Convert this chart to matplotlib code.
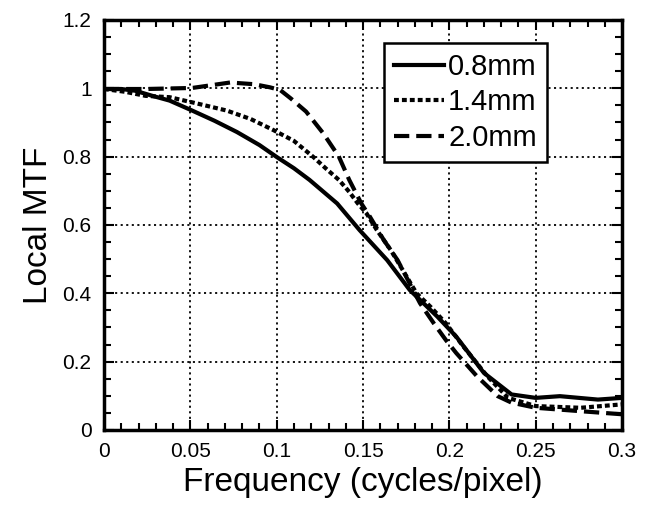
import numpy as np
import matplotlib
matplotlib.use("Agg")
import matplotlib.pyplot as plt
from matplotlib.ticker import MultipleLocator

plt.rcParams['font.family'] = ['Liberation Sans', 'DejaVu Sans']
plt.rcParams['lines.scale_dashes'] = False

# 0.8mm (solid)
f_08 = [0.0, 0.010, 0.018, 0.028, 0.038, 0.051, 0.064, 0.077, 0.090, 0.100,
        0.110, 0.119, 0.135, 0.148, 0.164, 0.177, 0.193, 0.204, 0.220, 0.236,
        0.250, 0.264, 0.286, 0.300]
mtf_08 = [0.998, 0.998, 0.993, 0.978, 0.964, 0.935, 0.905, 0.872, 0.834, 0.799,
          0.766, 0.732, 0.663, 0.585, 0.497, 0.410, 0.332, 0.273, 0.167, 0.104,
          0.094, 0.099, 0.089, 0.094]

# 1.4mm (dotted)
f_14 = [0.0, 0.012, 0.024, 0.038, 0.051, 0.071, 0.085, 0.098, 0.110, 0.121,
        0.129, 0.136, 0.142, 0.147, 0.152, 0.158, 0.166, 0.173, 0.181, 0.189,
        0.198, 0.208, 0.222, 0.234, 0.250, 0.276, 0.300]
mtf_14 = [0.998, 0.990, 0.978, 0.974, 0.959, 0.935, 0.910, 0.878, 0.846, 0.800,
          0.763, 0.732, 0.697, 0.663, 0.634, 0.585, 0.527, 0.468, 0.400, 0.361,
          0.312, 0.245, 0.157, 0.094, 0.070, 0.065, 0.075]

# 2.0mm (dashed)
f_20 = [0.0, 0.024, 0.051, 0.073, 0.087, 0.096, 0.102, 0.108, 0.117, 0.127,
        0.136, 0.142, 0.149, 0.154, 0.162, 0.170, 0.177, 0.183, 0.191, 0.198,
        0.204, 0.216, 0.228, 0.236, 0.250, 0.276, 0.300]
mtf_20 = [0.998, 0.998, 1.001, 1.017, 1.012, 1.003, 0.995, 0.971, 0.932, 0.868,
          0.800, 0.732, 0.663, 0.624, 0.556, 0.497, 0.429, 0.371, 0.312, 0.263,
          0.225, 0.157, 0.099, 0.080, 0.065, 0.055, 0.046]

x_ticks = [0, 0.05, 0.1, 0.15, 0.2, 0.25, 0.3]
x_labels = ["0", "0.05", "0.1", "0.15", "0.2", "0.25", "0.3"]
y_ticks = [0, 0.2, 0.4, 0.6, 0.8, 1.0, 1.2]
y_labels = ["0", "0.2", "0.4", "0.6", "0.8", "1", "1.2"]

fig = plt.figure(figsize=(6.48, 5.19), dpi=100)
ax = fig.add_axes([0.1605, 0.1715, 0.7995, 0.79])

ax.plot(f_08, mtf_08, color="black", lw=3, linestyle="-", label="0.8mm")
ax.plot(f_14, mtf_14, color="black", lw=3, linestyle=(0, (3.5, 2.2)), label="1.4mm")
ax.plot(f_20, mtf_20, color="black", lw=3, linestyle=(0, (11, 5)), label="2.0mm")

ax.set_xlim(0, 0.3)
ax.set_ylim(0, 1.2)
ax.set_xticks(x_ticks)
ax.set_xticklabels(x_labels)
ax.set_yticks(y_ticks)
ax.set_yticklabels(y_labels)
ax.xaxis.set_minor_locator(MultipleLocator(0.01))
ax.yaxis.set_minor_locator(MultipleLocator(0.05))
ax.tick_params(which="both", direction="in", top=True, right=True, width=1.5)
ax.tick_params(which="major", length=7, labelsize=15, pad=9)
ax.tick_params(which="minor", length=5)

ax.grid(True, which="major", color="black", lw=1.3, linestyle=(0, (1.5, 2.5)))
for s in ax.spines.values():
    s.set_linewidth(2.5)

ax.set_xlabel("Frequency (cycles/pixel)", fontsize=24, labelpad=4)
ax.set_ylabel("Local MTF", fontsize=24, labelpad=6)

leg = ax.legend(loc="upper right", bbox_to_anchor=(0.855, 0.944), borderaxespad=0,
                fontsize=21, handlelength=1.7, handletextpad=0.15, labelspacing=0.25,
                borderpad=0.35, fancybox=False, framealpha=1, edgecolor="black")
leg.get_frame().set_linewidth(1.8)

plt.savefig("out.png", dpi=100)
